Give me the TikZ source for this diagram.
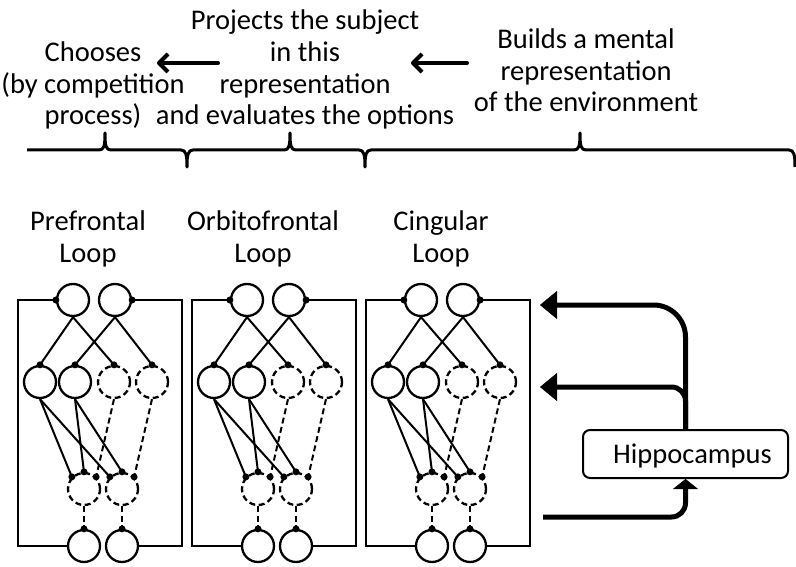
\documentclass[tikz,border=0pt]{standalone}
\usepackage{fontspec}
\setmainfont{Carlito}
\usetikzlibrary{arrows.meta}
\begin{document}
\begin{tikzpicture}[x=1pt,y=-1pt,
  txt/.style={font=\fontsize{28.5}{31.7}\selectfont, align=center, inner sep=0pt, anchor=base},
  neuron/.style={circle, draw, line width=2.3pt, minimum size=32pt, inner sep=0pt, fill=white},
  dneuron/.style={neuron, dash pattern=on 6pt off 3.5pt},
  wire/.style={line width=2pt},
  dwire/.style={wire, dash pattern=on 6pt off 3.5pt},
  frame/.style={line width=2.2pt},
  flow/.style={line width=5pt},
  hint/.style={line width=4pt, line cap=round, -{Straight Barb[length=9pt,width=18pt,line join=round]}},
  syn/.style={fill=black},
]
\useasboundingbox (0,0) rectangle (796,567);

% functional descriptions (anchored on the baseline of their last line)
\node[txt] (choose) at (93,125) {Chooses\\(by competition\\process)};
\node[txt] (project) at (305,125) {Projects the subject\\in this\\representation\\and evaluates the options};
\node[txt] (builds) at (586,112) {Builds a mental\\representation\\of the environment};

\coordinate (h1s) at (218,63); \coordinate (h1e) at (157,63);
\coordinate (h2s) at (467,63); \coordinate (h2e) at (411,63);
\draw[hint] (h1s) -- (h1e);
\draw[hint] (h2s) -- (h2e);

% braces grouping the three loops
\draw[line width=3pt, line join=round]
  (27,150) -- (99,150) .. controls (104,150) and (105,146) .. (105,133)
  .. controls (105,146) and (106,150) .. (111,150) -- (181,150)
  .. controls (186,150) and (187,155) .. (187,167)
  .. controls (187,155) and (188,150) .. (193,150) -- (284,150)
  .. controls (289,150) and (290,146) .. (290,133)
  .. controls (290,146) and (291,150) .. (296,150) -- (359,150)
  .. controls (364,150) and (365,155) .. (365,167)
  .. controls (365,155) and (366,150) .. (371,150) -- (574,150)
  .. controls (579,150) and (580,146) .. (580,133)
  .. controls (580,146) and (581,150) .. (586,150) -- (789,150)
  .. controls (794,150) and (795,155) .. (795,167);

% the three cortico-basal loops
\foreach \k/\dx/\name/\lx in {0/0/Prefrontal/88, 1/174/Orbitofrontal/89, 2/348/Cingular/93}{
  \begin{scope}[xshift=\dx pt]
    \node[txt] (lab-\k) at (\lx,262) {\name\\Loop};

    \node[neuron]  (t1-\k) at (73,300) {};
    \node[neuron]  (t2-\k) at (115,300) {};
    \node[neuron]  (m1-\k) at (40,382) {};
    \node[neuron]  (m2-\k) at (75,382) {};
    \node[dneuron] (m3-\k) at (114,382) {};
    \node[dneuron] (m4-\k) at (152,382) {};
    \node[dneuron] (l1-\k) at (84,489) {};
    \node[dneuron] (l2-\k) at (122,489) {};
    \node[neuron]  (b1-\k) at (84,546) {};
    \node[neuron]  (b2-\k) at (122,546) {};

    \draw[frame] (t1-\k.west) -- (18,300) -- (18,546) -- (b1-\k.west);
    \draw[frame] (t2-\k.east) -- (182,300) -- (182,546) -- (b2-\k.east);

    \draw[wire] (t1-\k.south) -- (m1-\k.north);
    \draw[wire] (t1-\k.south) -- (m3-\k.north);
    \draw[wire] (t2-\k.south) -- (m2-\k.north);
    \draw[wire] (t2-\k.south) -- (m4-\k.north);

    \draw[wire] (m1-\k.south) -- (l1-\k.135);
    \draw[wire] (m1-\k.south) -- (l2-\k.135);
    \draw[wire] (m2-\k.south) -- (l1-\k.90);
    \draw[wire] (m2-\k.south) -- (l2-\k.90);
    \draw[dwire] (m3-\k.south) -- (l1-\k.45);
    \draw[dwire] (m4-\k.south) -- (l2-\k.45);

    \draw[dwire] (l1-\k.south) -- (b1-\k.north);
    \draw[dwire] (l2-\k.south) -- (b2-\k.north);

    \foreach \p in {t1-\k.west, t2-\k.east, m1-\k.north, m2-\k.north, m3-\k.north, m4-\k.north,
                    l1-\k.135, l1-\k.90, l1-\k.45, l2-\k.135, l2-\k.90, l2-\k.45,
                    b1-\k.north, b2-\k.north}
      \fill[syn] (\p) circle (3.5pt);
  \end{scope}
}

% hippocampus and its projections
\node[draw, line width=2pt, rounded corners=7pt, minimum width=205pt, minimum height=48pt,
      inner sep=0pt, font=\fontsize{28.5}{31.7}\selectfont, text height=23pt, text depth=5pt]
      (hippo) at (685.5,454) {\hspace*{14pt}Hippocampus};

\coordinate (in1) at (540,305);
\coordinate (in2) at (540,387);
\coordinate (src) at (543,517);
\draw[flow, rounded corners=32pt, -{Triangle[length=17pt,width=28pt,line width=0.5pt]}] (hippo.north) |- (in1);
\draw[flow, rounded corners=14pt, -{Triangle[length=17pt,width=28pt,line width=0.5pt]}] (hippo.north) |- (in2);
\draw[flow, rounded corners=14pt, -{Triangle[length=10pt,width=25pt,line width=0.5pt]}] (src) -| (hippo.south);
\end{tikzpicture}
\end{document}
